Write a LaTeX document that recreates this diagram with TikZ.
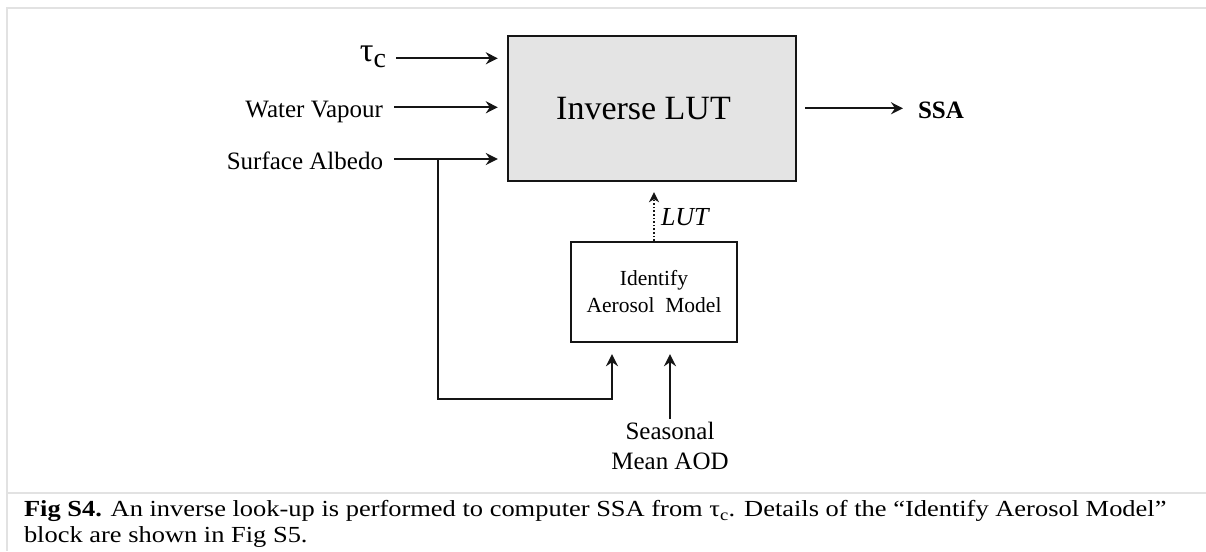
\documentclass[tikz,border=0pt]{standalone}
\usepackage{fontspec}
\setmainfont{Liberation Serif}
\newfontfamily\capfont[FakeStretch=1.15]{Liberation Serif}
\usetikzlibrary{arrows.meta}

\definecolor{boxgray}{HTML}{E4E4E4}
\definecolor{framegray}{HTML}{E2E2E2}
\definecolor{ink}{HTML}{151515}

\tikzset{
	frameline/.style={line width=2pt, draw=framegray},
	conn/.style={line width=2pt, draw=ink, -{Stealth[length=12pt,width=12pt,inset=4pt]}},
	lutconn/.style={line width=1.6pt, draw=ink, dash pattern=on 1.6pt off 2pt, -{Stealth[length=10pt,width=10pt,inset=3pt]}},
	lutbox/.style={draw=ink, line width=2.4pt, fill=boxgray, minimum width=288pt, minimum height=145pt, inner sep=0pt, font=\fontsize{34}{40}\selectfont},
	aerobox/.style={draw=ink, line width=2.4pt, fill=white, minimum width=166pt, minimum height=100pt, inner sep=0pt, align=center, font=\fontsize{21.5}{27}\selectfont},
	lbl/.style={inner sep=0pt, outer sep=0pt, text height=20pt, text depth=0pt, font=\fontsize{25}{30}\selectfont},
	lbltwo/.style={inner sep=0pt, outer sep=0pt, align=center, font=\fontsize{25}{30}\selectfont},
	lutlbl/.style={inner sep=0pt, outer sep=0pt, font=\fontsize{26}{30}\selectfont\itshape},
	caption/.style={inner sep=0pt, outer sep=0pt, align=left, font=\capfont\fontsize{23}{22}\selectfont}
}

\begin{document}
\begin{tikzpicture}[x=1pt, y=-1pt]
	\useasboundingbox (0,0) rectangle (1206,551);

	%% figure frame
	\draw[frameline] (1206,8) -- (7,8) -- (7,551);
	\draw[frameline] (7,493) -- (1206,493);

	%% blocks
	\node[lutbox] (lut) at (652,108.5) {\hspace*{-17pt}Inverse LUT};
	\node[aerobox] (aero) at (654,292) {Identify\\Aerosol\ \ Model};

	%% inputs
	\node[lbl, text height=6.4pt, anchor=east] (tau) at (386,58.3) {{\fontsize{34}{30}\selectfont τ}{\fontsize{28}{30}\selectfont\raisebox{-6pt}{c}}};
	\node[lbl, anchor=east] (water) at (383,107.3) {Water Vapour};
	\node[lbl, anchor=east] (albedo) at (383,159) {Surface Albedo};
	\node[lbltwo, anchor=north] (aod) at (670,422) {Seasonal\\Mean AOD};

	%% output
	\node[lbl, anchor=west] (ssa) at (918,108.3) {\bfseries SSA};

	%% input arrows
	\draw[conn, shorten <=10pt, shorten >=9pt] (tau) -- (tau -| lut.west);
	\draw[conn, shorten <=11pt, shorten >=9pt] (water) -- (water -| lut.west);
	\draw[conn, shorten <=11pt, shorten >=9pt] (albedo) -- (albedo -| lut.west);

	%% albedo branch
	\coordinate (split) at (438,159);
	\coordinate (bend) at (612,399);
	\draw[conn, shorten >=11pt] (split) |- (bend) -- (bend |- aero.south);
	\draw[conn, shorten <=3pt, shorten >=11pt] (aod.north) -- (aod.north |- aero.south);

	%% look-up table
	\draw[lutconn, shorten >=10pt] (aero.north) -- (aero.north |- lut.south);
	\node[lutlbl, anchor=west] (lutname) at (661,217) {LUT};

	%% output arrow
	\draw[conn, shorten <=8pt, shorten >=15pt] (lut.east |- ssa) -- (ssa);

	%% caption
	\node[caption, anchor=north west] (cap) at (24,500.5) {\textbf{Fig S4.} An inverse look-up is performed to computer SSA from τ\textsubscript{c}. Details of the “Identify Aerosol Model”\\[4pt]block are shown in Fig S5.};
\end{tikzpicture}
\end{document}
